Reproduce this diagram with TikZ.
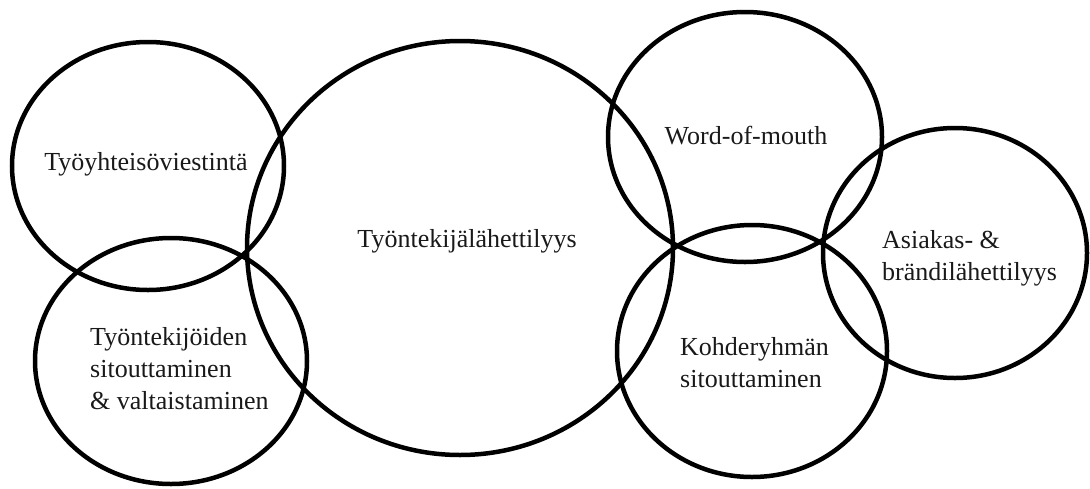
\documentclass[tikz,border=0pt]{standalone}
\usepackage{fontspec}
\setmainfont{Liberation Serif}
\usetikzlibrary{shapes.geometric}
\begin{document}
\begin{tikzpicture}[x=1pt,y=-1pt,
  ring/.style={draw=black,line width=4.5pt,ellipse,inner sep=0pt},
  lbl/.style={font=\fontsize{26}{32}\selectfont,inner sep=0pt,text=black!90}]
\useasboundingbox (0,0) rectangle (1090,488);
\node[ring,minimum width=272pt,minimum height=248pt] (e1) at (148,166) {};
\node[ring,minimum width=272pt,minimum height=246pt] (e2) at (171,361) {};
\node[ring,minimum width=426pt,minimum height=414pt] (e3) at (460,248) {};
\node[ring,minimum width=274pt,minimum height=250pt] (e4) at (745,137) {};
\node[ring,minimum width=270pt,minimum height=252pt] (e5) at (752,351) {};
\node[ring,minimum width=264pt,minimum height=250pt] (e6) at (955,253) {};
\node[lbl,anchor=base] (t1) at (146,170) {Työyhteisöviestintä};
\node[lbl,anchor=base west,align=left] (t2) at (90,409) {Työntekijöiden\\sitouttaminen\\\& valtaistaminen};
\node[lbl,anchor=base] (t3) at (467,247) {Työntekijälähettilyys};
\node[lbl,anchor=base] (t4) at (746,144) {Word-of-mouth};
\node[lbl,anchor=base west,align=left] (t5) at (680,387) {Kohderyhmän\\sitouttaminen};
\node[lbl,anchor=base west,align=left] (t6) at (882,280) {Asiakas- \&\\brändilähettilyys};
\end{tikzpicture}
\end{document}
